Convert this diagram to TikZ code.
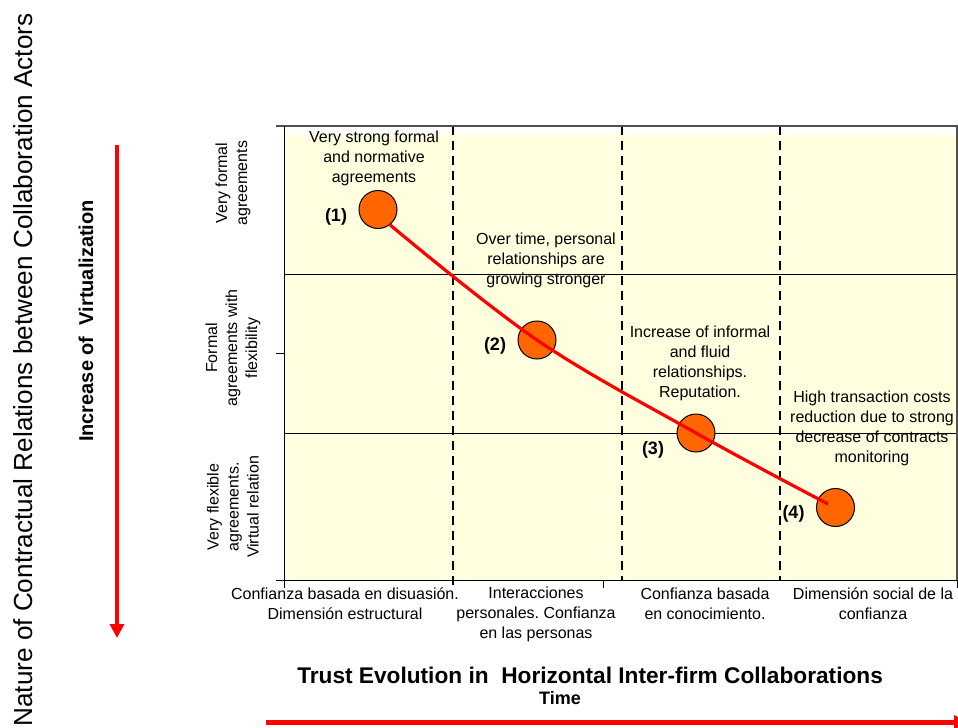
\documentclass[tikz,border=0pt]{standalone}
\usepackage{fontspec}
\setmainfont{Liberation Sans}
\usetikzlibrary{arrows.meta}
\definecolor{plotbg}{RGB}{255,255,224}
\definecolor{dotfill}{RGB}{255,102,0}
\definecolor{framegray}{RGB}{80,80,80}
\frenchspacing
\begin{document}
\begin{tikzpicture}[x=0.75pt,y=-0.75pt,
  lbl/.style={font=\fontsize{12}{15}\selectfont, align=center, inner sep=0pt},
  num/.style={font=\fontsize{13.5}{16}\selectfont\bfseries, inner sep=0pt, anchor=base},
  dot/.style={circle, draw=black, line width=0.75pt, fill=dotfill, minimum size=28.5pt, inner sep=0pt},
  gridl/.style={black, line width=0.75pt},
  divider/.style={black, line width=1.5pt, dash pattern=on 6.75pt off 4.5pt},
  redcurve/.style={red, line width=2.4pt},
  bigarrow/.style={red, line width=3pt, -{Triangle[width=10.5pt,length=10.5pt]}}]
\useasboundingbox (0,0) rectangle (958,728);

% plot area
\fill[plotbg] (285,135) rectangle (956,580);
\draw[gridl] (285,274) -- (957,274);
\draw[gridl] (285,433) -- (957,433);
\draw[divider] (453,126) -- (453,588);
\draw[divider] (621.5,126) -- (621.5,580);
\draw[divider] (780,126) -- (780,580);
\draw[framegray, line width=1pt] (276,126) -- (957,126) -- (957,580);
\draw[black, line width=0.75pt] (284,126) -- (284,588);
\draw[black, line width=0.75pt] (276,580) -- (957,580);
\draw[black, line width=0.75pt] (276,353) -- (284,353);
\draw[black, line width=0.75pt] (603,580) -- (603,588);
\draw[black, line width=0.75pt] (957,580) -- (957,588);

% points
\node[dot] (p1) at (378,209.5) {};
\node[dot] (p2) at (537,340) {};
\node[dot] (p3) at (696,433) {};
\node[dot] (p4) at (835.5,507.5) {};
\coordinate (c4) at (828,504);
\draw[redcurve] plot[smooth, tension=0.6] coordinates {(p1.-52) (p2.center) (p3.center) (c4)};

\node[num] (n1) at (336,221.7) {(1)};
\node[num] (n2) at (495,350.7) {(2)};
\node[num] (n3) at (653,454) {(3)};
\node[num] (n4) at (793.5,518) {(4)};

% annotations
\node[lbl] (t1) at (374,158) {Very strong formal\\and normative\\agreements};
\node[lbl] (t2) at (546,260.5) {Over time, personal\\relationships are\\growing stronger};
\node[lbl] (t3) at (700,363.5) {Increase of informal\\and fluid\\relationships.\\Reputation.};
\node[lbl] (t4) at (872,428.5) {High transaction costs\\reduction due to strong\\decrease of contracts\\monitoring};

% y-axis labels
\node[lbl, rotate=90] (y1) at (233,183) {Very formal\\agreements};
\node[lbl, rotate=90] (y2) at (233,348) {Formal\\agreements with\\flexibility};
\node[lbl, rotate=90] (y3) at (233,507) {Very flexible\\agreements.\\Virtual relation};

% x-axis labels
\node[lbl] (x1) at (345,604) {Confianza basada en disuasión.\\Dimensión estructural};
\node[lbl] (x2) at (536,614) {Interacciones\\personales. Confianza\\en las personas};
\node[lbl] (x3) at (705,604) {Confianza basada\\en conocimiento.};
\node[lbl] (x4) at (873,604) {Dimensión social de la\\confianza};

% titles
\node[font=\fontsize{17}{20}\selectfont\bfseries, anchor=base west, inner sep=0pt] (title) at (297,683.3) {Trust Evolution in\ \ Horizontal Inter-firm Collaborations};
\node[font=\fontsize{13.5}{16}\selectfont\bfseries, anchor=base, inner sep=0pt] (time) at (560,704) {Time};
\node[rotate=90, anchor=base, inner sep=0pt, font=\fontsize{15}{18}\selectfont\bfseries] (virt) at (93,321) {Increase of\ \ Virtualization};
\node[rotate=90, anchor=base, inner sep=0pt, font=\fontsize{19.6}{23}\selectfont] (ytitle) at (32,370) {Nature of Contractual Relations between Collaboration Actors};

% arrows
\coordinate (la0) at (117,145);
\coordinate (la1) at (117,638);
\draw[bigarrow] (la0) -- (la1);
\coordinate (ba0) at (266,722.5);
\coordinate (ba1) at (968,722.5);
\draw[bigarrow, line width=3.75pt] (ba0) -- (ba1);
\end{tikzpicture}
\end{document}
